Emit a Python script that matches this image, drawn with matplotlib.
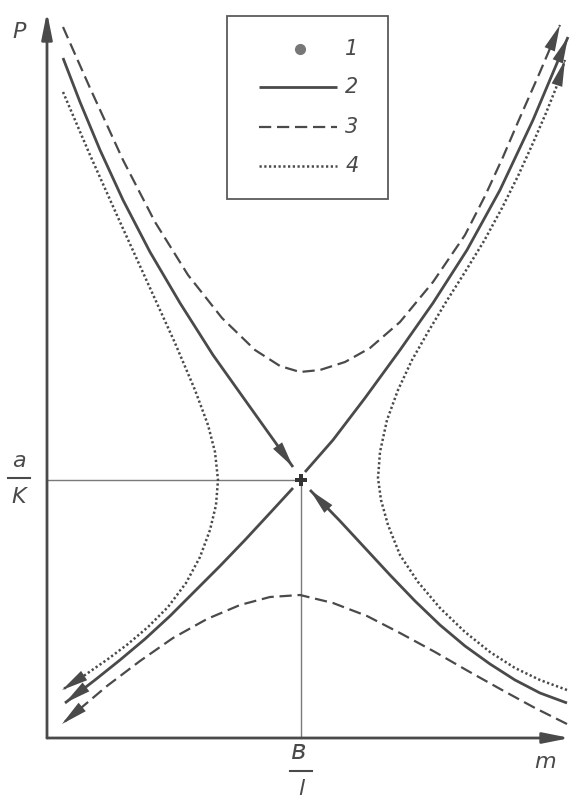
import matplotlib.pyplot as plt
from matplotlib.patches import Rectangle

# saddle point (b/l, a/K)
center_m, center_p = 5.08, 5.16

# curve 2 - separatrices
sep_in_ul_m = [0.32, 0.66, 1.06, 1.52, 2.06, 2.66, 3.32, 3.96, 4.46, 4.92]
sep_in_ul_p = [13.60, 12.72, 11.76, 10.76, 9.72, 8.70, 7.66, 6.76, 6.06, 5.42]
sep_in_lr_m = [10.40, 9.86, 9.36, 8.86, 8.36, 7.86, 7.36, 6.86, 6.36, 5.86, 5.26]
sep_in_lr_p = [0.70, 0.90, 1.16, 1.48, 1.84, 2.26, 2.74, 3.26, 3.80, 4.34, 4.96]
sep_out_ur_m = [5.16, 5.72, 6.36, 7.06, 7.72, 8.40, 9.06, 9.72, 10.42]
sep_out_ur_p = [5.32, 5.96, 6.80, 7.76, 8.70, 9.76, 10.96, 12.36, 14.02]
sep_out_ll_m = [4.92, 4.46, 3.96, 3.46, 2.96, 2.46, 1.96, 1.46, 0.96, 0.36]
sep_out_ll_p = [5.00, 4.50, 3.96, 3.44, 2.94, 2.44, 1.98, 1.56, 1.16, 0.70]

# curve 3 - upper and lower trajectories
dash_up_m = [0.32, 0.86, 1.52, 2.16, 2.82, 3.50, 4.16, 4.66, 5.06, 5.46,
             5.96, 6.46, 7.06, 7.72, 8.36, 8.76, 9.12, 9.42, 9.86, 10.26]
dash_up_p = [14.22, 13.00, 11.56, 10.32, 9.26, 8.40, 7.76, 7.44, 7.32, 7.36,
             7.52, 7.80, 8.32, 9.12, 10.06, 10.84, 11.62, 12.32, 13.32, 14.26]
dash_lo_m = [10.40, 9.76, 9.10, 8.42, 7.76, 7.06, 6.40, 5.72, 5.06, 4.46,
             3.86, 3.20, 2.52, 1.86, 1.20, 0.30]
dash_lo_p = [0.28, 0.60, 0.96, 1.34, 1.72, 2.10, 2.44, 2.70, 2.86, 2.82,
             2.66, 2.38, 2.00, 1.54, 1.04, 0.28]

# curve 4 - left and right trajectories
dot_l_m = [0.32, 0.86, 1.46, 2.06, 2.56, 2.96, 3.22, 3.36, 3.42, 3.38,
           3.26, 3.06, 2.78, 2.42, 2.02, 1.62, 1.22, 0.76, 0.30]
dot_l_p = [12.92, 11.66, 10.32, 9.00, 7.90, 6.96, 6.26, 5.72, 5.16, 4.66,
           4.16, 3.62, 3.10, 2.62, 2.22, 1.88, 1.58, 1.26, 0.96]
dot_r_m = [10.40, 9.86, 9.36, 8.86, 8.36, 7.86, 7.42, 7.06, 6.82, 6.68,
           6.62, 6.66, 6.80, 7.02, 7.30, 7.62, 7.98, 8.36, 8.74, 9.10,
           9.42, 9.72, 9.98, 10.18, 10.36]
dot_r_p = [0.96, 1.16, 1.40, 1.72, 2.12, 2.60, 3.12, 3.66, 4.26, 4.76,
           5.20, 5.72, 6.36, 6.96, 7.56, 8.12, 8.72, 9.32, 9.94, 10.60,
           11.24, 11.90, 12.50, 13.00, 13.56]

legend_labels = ['1', '2', '3', '4']

ink = '#4a4a4a'
fig = plt.figure(figsize=(5.71, 7.99), dpi=100)
ax = fig.add_axes([0, 0, 1, 1])
ax.set_xlim(-0.94, 10.48)
ax.set_ylim(-1.22, 14.76)
ax.axis('off')

solid = dict(color=ink, lw=2.0, solid_capstyle='butt', solid_joinstyle='round')
dashed = dict(color=ink, lw=1.6, dashes=(5.5, 2.6), dash_joinstyle='round')
dotted = dict(color=ink, lw=1.8, dashes=(0.9, 1.0), dash_joinstyle='round')


def head(m, p, ms=20):
    ax.annotate('', xy=(m[-1], p[-1]), xytext=(m[-2], p[-2]),
                arrowprops=dict(arrowstyle='-|>,head_length=0.95,head_width=0.2',
                                color=ink, lw=0, shrinkA=0, shrinkB=0,
                                mutation_scale=ms))


#axes with arrows
ax.annotate('', xy=(0, 14.52), xytext=(0, 0),
            arrowprops=dict(arrowstyle='-|>,head_length=1.0,head_width=0.2',
                            color=ink, lw=2.0, shrinkA=0, shrinkB=0, mutation_scale=16))
ax.annotate('', xy=(10.46, 0), xytext=(0, 0),
            arrowprops=dict(arrowstyle='-|>,head_length=1.0,head_width=0.2',
                            color=ink, lw=2.0, shrinkA=0, shrinkB=0, mutation_scale=16))

# guide lines to the saddle
ax.plot([0, center_m], [center_p, center_p], color='#7a7a7a', lw=1.0)
ax.plot([center_m, center_m], [0, center_p], color='#7a7a7a', lw=1.0)

for m, p in [(sep_in_ul_m, sep_in_ul_p), (sep_in_lr_m, sep_in_lr_p),
             (sep_out_ur_m, sep_out_ur_p), (sep_out_ll_m, sep_out_ll_p)]:
    ax.plot(m, p, **solid)
    head(m, p)
for m, p in [(dash_up_m, dash_up_p), (dash_lo_m, dash_lo_p)]:
    ax.plot(m, p, **dashed)
    head(m, p)
for m, p in [(dot_l_m, dot_l_p), (dot_r_m, dot_r_p)]:
    ax.plot(m, p, **dotted)
    head(m, p)

ax.plot(center_m, center_p, marker='P', ms=9, color='#333333', mew=0)

# legend box
ax.add_patch(Rectangle((3.60, 10.78), 3.22, 3.66, fill=False, ec='#5a5a5a', lw=1.3))
rows = [13.78, 13.02, 12.22, 11.44]
ax.plot(5.06, rows[0], 'o', ms=7, color='#777777')
ax.plot([4.24, 5.80], [rows[1]] * 2, **solid)
ax.plot([4.24, 5.80], [rows[2]] * 2, **dashed)
ax.plot([4.24, 5.80], [rows[3]] * 2, **dotted)
for lab, r in zip(legend_labels, rows):
    ax.text(6.10, r, lab, fontsize=15, style='italic', color=ink,
            ha='center', va='center')

txt = dict(fontsize=16, style='italic', color=ink, ha='center', va='center')
ax.text(-0.56, 14.12, 'P', **txt)
ax.text(9.96, -0.48, 'm', **txt)
# a/K
ax.text(-0.56, 5.54, 'a', **txt)
ax.plot([-0.78, -0.34], [5.20, 5.20], color=ink, lw=1.5, clip_on=False)
ax.text(-0.56, 4.82, 'K', **txt)
# в/l
ax.text(center_m - 0.04, -0.28, 'в', fontsize=19, style='italic', color=ink,
        ha='center', va='center')
ax.plot([4.86, 5.30], [-0.66, -0.66], color=ink, lw=1.5, clip_on=False)
ax.text(center_m, -1.02, 'l', **txt)

fig.savefig('out.png', dpi=100)
